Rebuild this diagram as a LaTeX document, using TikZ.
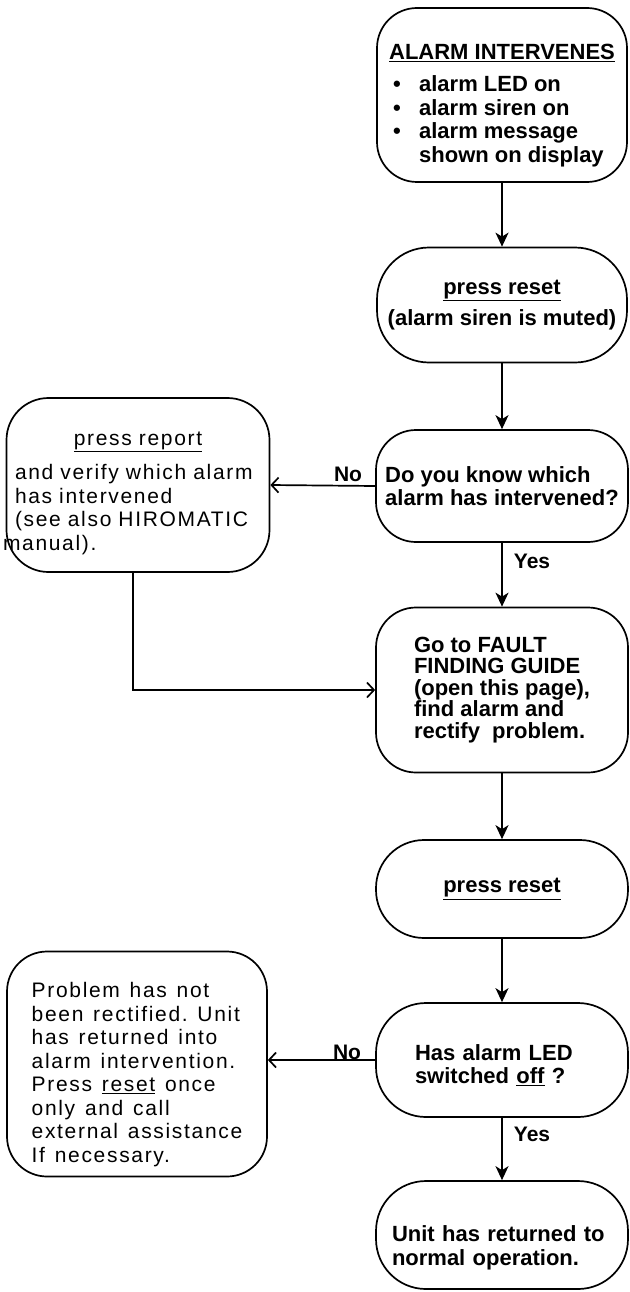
\documentclass[tikz,border=0pt]{standalone}
\usepackage{fontspec}
\setmainfont{Liberation Sans}
\newfontfamily\spacedfont[LetterSpace=8,WordSpace=1.3]{Liberation Sans}
\usetikzlibrary{arrows.meta}
\begin{document}
\begin{tikzpicture}[x=1pt,y=-1pt,line width=1.7pt,
  box/.style={draw,rounded corners=40pt,inner sep=0pt,align=left,
    font=\fontsize{22}{23.5}\selectfont\bfseries},
  note/.style={draw,rounded corners=42pt,inner sep=0pt,align=left,
    font=\fontsize{21}{23.5}\selectfont\spacedfont},
  lab/.style={font=\fontsize{21}{23}\selectfont\bfseries},
  down/.style={-{Stealth[length=14pt,width=13pt,inset=4pt]}},
  side/.style={-{Straight Barb[length=7pt,width=15pt]}}]
  \useasboundingbox (0,0) rectangle (629,1292);
  \node[box,minimum width=250pt,minimum height=174pt] (alarm) at (502,95)
    {\rule{0pt}{36pt}\underline{ALARM INTERVENES}\\[9pt]
     \hspace*{4pt}\makebox[26pt][l]{\textbullet}alarm LED on\\
     \hspace*{4pt}\makebox[26pt][l]{\textbullet}alarm siren on\\
     \hspace*{4pt}\makebox[26pt][l]{\textbullet}alarm message\\
     \hspace*{30pt}shown on display};
  \node[box,rounded corners=52pt,align=center,minimum width=250pt,minimum height=115pt] (reset1) at (502,305)
    {\underline{press reset}\\[8pt](alarm siren is muted)};
  \node[box,minimum width=252pt,minimum height=112pt] (know) at (502,486)
    {Do you know which\\alarm has intervened?};
  \node[box,font=\fontsize{22}{21.5}\selectfont\bfseries,minimum width=252pt,minimum height=165pt] (fault) at (502,690)
    {Go to FAULT\\FINDING GUIDE\\(open this page),\\find alarm and\\rectify\ \ problem.};
  \node[box,rounded corners=48pt,align=center,minimum width=252pt,minimum height=98pt] (reset2) at (502,889)
    {\underline{press reset}};
  \node[box,rounded corners=50pt,minimum width=252pt,minimum height=114pt,text width=174pt] (ledoff) at (502,1060)
    {\rule{0pt}{26pt}Has alarm LED\\switched \underline{off} ?};
  \node[box,rounded corners=50pt,minimum width=252pt,minimum height=108pt,text width=220pt] (normal) at (502,1235)
    {\rule{0pt}{42pt}Unit has returned to\\normal operation.};
  \node[note,minimum width=263pt,minimum height=174pt,text width=246pt] (report) at (138,485)
    {\makebox[246pt][c]{\rule{0pt}{30pt}\underline{press report}}\\[11pt]
     and verify which alarm\\has intervened\\(see also HIROMATIC\\\hspace*{-12pt}manual).};
  \node[note,rounded corners=40pt,minimum width=260pt,minimum height=225pt] (problem) at (137,1064)
    {\rule{0pt}{36pt}Problem has not\\been rectified.\ Unit\\has returned into\\alarm intervention.\\
     Press \underline{reset} once\\only and call\\external assistance\\If necessary.};
  \draw[down] (alarm) -- (reset1);
  \draw[down] (reset1) -- (know);
  \draw[down] (know) -- (fault);
  \draw[down] (fault) -- (reset2);
  \draw[down] (reset2) -- (ledoff);
  \draw[down] (ledoff) -- (normal);
  \draw[side] (know.west) -- (report.east);
  \draw[side] (ledoff.west) -- (ledoff.west -| problem.east);
  \draw[side] ([xshift=-5pt]report.south) |- (fault.west);
  \node[lab] (no1) at (348,474) {No};
  \node[lab] (yes1) at (532,561) {Yes};
  \node[lab] (no2) at (347,1052) {No};
  \node[lab] (yes2) at (532,1134) {Yes};
\end{tikzpicture}
\end{document}
